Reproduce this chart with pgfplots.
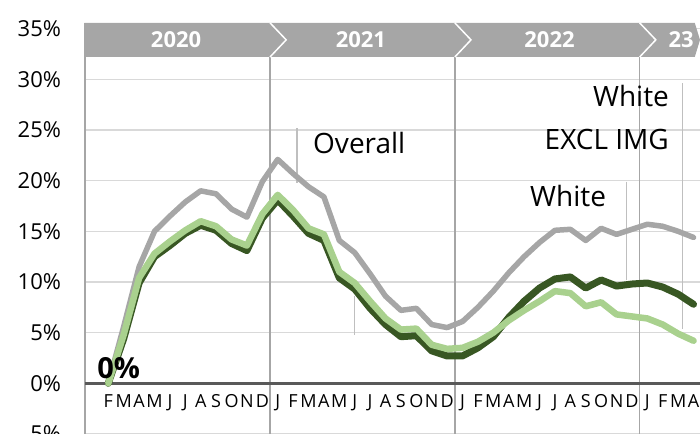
\documentclass[border=0pt]{standalone}
\usepackage{fontspec}
\setmainfont{Open Sans}
\usepackage{pgfplots}
\pgfplotsset{compat=1.18}
\definecolor{grline}{HTML}{A6A6A6}
\definecolor{lgreen}{HTML}{A9D18E}
\definecolor{dgreen}{HTML}{385723}
\definecolor{gridc}{HTML}{D9D9D9}
\definecolor{zeroc}{HTML}{595959}
\definecolor{leader}{HTML}{BFBFBF}
\begin{document}
\begin{tikzpicture}
\begin{axis}[
  at={(85.2pt,-0.95pt)}, anchor=south west,
  scale only axis, width=614.8pt, height=411.3pt,
  xmin=-0.5, xmax=39.42, ymin=-5, ymax=35.6,
  clip=false,
  axis line style={draw=none},
  major tick length=0pt,
  ytick={-5,0,5,10,15,20,25,30,35},
  yticklabels={-5\%,0\%,5\%,10\%,15\%,20\%,25\%,30\%,35\%},
  yticklabel style={anchor=east, inner sep=0pt, xshift=-24pt, font=\fontsize{22}{26}\selectfont},
  ymajorgrids, major grid style={color=gridc, line width=1.5pt},
  xtick={1,...,39},
  xticklabels={F,M,A,M,J,J,A,S,O,N,D,J,F,M,A,M,J,J,A,S,O,N,D,J,F,M,A,M,J,J,A,S,O,N,D,J,F,M,A},
  xticklabel style={anchor=base, inner sep=0pt, yshift=26.9pt, font=\fontsize{18}{20}\selectfont},
  extra x ticks={-0.5,11.5,23.5,35.5},
  extra x tick labels={},
  extra x tick style={xmajorgrids, major grid style={color=grline, line width=1.5pt}},
]
% zero line
\addplot[draw=zeroc, line width=3pt, forget plot] coordinates {(-0.5,0) (39.42,0)};
% leader lines
\addplot[draw=leader, line width=1.5pt, forget plot] coordinates {(13.26,25.2) (13.26,19.8)};
\addplot[draw=leader, line width=1.5pt, forget plot] coordinates {(16.99,8.6) (16.99,4.8)};
\addplot[draw=leader, line width=1.5pt, forget plot] coordinates {(34.66,19.9) (34.66,10.2)};
\addplot[draw=leader, line width=1.5pt, forget plot] coordinates {(38.27,29.6) (38.27,5.4)};
% Overall (gray)
\addplot[draw=grline, line width=5.5pt, line join=round, line cap=round] coordinates {
(1,0) (2,5.6) (3,11.5) (4,15.0) (5,16.5) (6,17.9) (7,19.0) (8,18.7) (9,17.2) (10,16.4) (11,19.9)
(12,22.1) (13,20.7) (14,19.4) (15,18.4) (16,14.1) (17,12.9) (18,10.8) (19,8.6) (20,7.2) (21,7.4) (22,5.8) (23,5.5)
(24,6.1) (25,7.5) (26,9.1) (27,10.9) (28,12.5) (29,13.9) (30,15.1) (31,15.2) (32,14.1) (33,15.3) (34,14.7) (35,15.2)
(36,15.7) (37,15.5) (38,15.0) (39,14.4)};
% dark green
\addplot[draw=dgreen, line width=7pt, line join=round, line cap=round] coordinates {
(1,0) (2,4.4) (3,9.9) (4,12.5) (5,13.6) (6,14.8) (7,15.6) (8,15.1) (9,13.8) (10,13.1) (11,16.3)
(12,18.1) (13,16.5) (14,14.8) (15,14.1) (16,10.4) (17,9.3) (18,7.4) (19,5.8) (20,4.6) (21,4.7) (22,3.2) (23,2.7)
(24,2.7) (25,3.5) (26,4.6) (27,6.5) (28,8.1) (29,9.4) (30,10.3) (31,10.5) (32,9.4) (33,10.2) (34,9.6) (35,9.8)
(36,9.9) (37,9.5) (38,8.8) (39,7.8)};
% light green
\addplot[draw=lgreen, line width=6.5pt, line join=round, line cap=round] coordinates {
(1,0) (2,4.8) (3,10.4) (4,12.8) (5,14.0) (6,15.1) (7,16.0) (8,15.5) (9,14.2) (10,13.6) (11,16.7)
(12,18.6) (13,17.1) (14,15.3) (15,14.7) (16,11.0) (17,9.9) (18,8.1) (19,6.4) (20,5.3) (21,5.4) (22,3.8) (23,3.4)
(24,3.5) (25,4.1) (26,5.0) (27,6.2) (28,7.2) (29,8.1) (30,9.1) (31,8.9) (32,7.6) (33,8.0) (34,6.8) (35,6.6)
(36,6.4) (37,5.8) (38,4.9) (39,4.2)};
% header band
\fill[grline] (axis cs:-0.55,32.21) -- (axis cs:-0.55,35.58) -- (axis cs:39.08,35.58) -- (axis cs:39.42,33.9) -- (axis cs:39.08,32.21) -- cycle;
\draw[white, line width=1.5pt] (axis cs:11.5,35.58) -- (axis cs:12.55,33.9) -- (axis cs:11.5,32.21);
\draw[white, line width=1.5pt] (axis cs:23.5,35.58) -- (axis cs:24.55,33.9) -- (axis cs:23.5,32.21);
\draw[white, line width=1.5pt] (axis cs:35.5,35.58) -- (axis cs:36.55,33.9) -- (axis cs:35.5,32.21);
\node[text=white, font=\fontsize{22}{26}\selectfont\bfseries] at (axis cs:5.4,33.9) {2020};
\node[text=white, font=\fontsize{22}{26}\selectfont\bfseries] at (axis cs:17.4,33.9) {2021};
\node[text=white, font=\fontsize{22}{26}\selectfont\bfseries] at (axis cs:29.65,33.9) {2022};
\node[text=white, font=\fontsize{22}{26}\selectfont\bfseries] at (axis cs:38.2,33.9) {23};
% labels
\node[anchor=base west, inner sep=0pt, font=\fontsize{28}{32}\selectfont] at (axis cs:14.29,22.69) {Overall};
\node[anchor=base east, inner sep=0pt, font=\fontsize{28}{32}\selectfont] at (axis cs:37.41,27.28) {White};
\node[anchor=base east, inner sep=0pt, font=\fontsize{28}{32}\selectfont] at (axis cs:37.41,23.04) {EXCL IMG};
\node[anchor=base west, inner sep=0pt, font=\fontsize{28}{32}\selectfont] at (axis cs:28.38,17.5) {White};
\node[anchor=base west, inner sep=0pt, font=\fontsize{29}{32}\selectfont\bfseries] at (axis cs:0.27,0.52) {0\%};
\end{axis}
\pgfresetboundingbox
\useasboundingbox (0,0) rectangle (700pt,433pt);
\end{tikzpicture}
\end{document}
